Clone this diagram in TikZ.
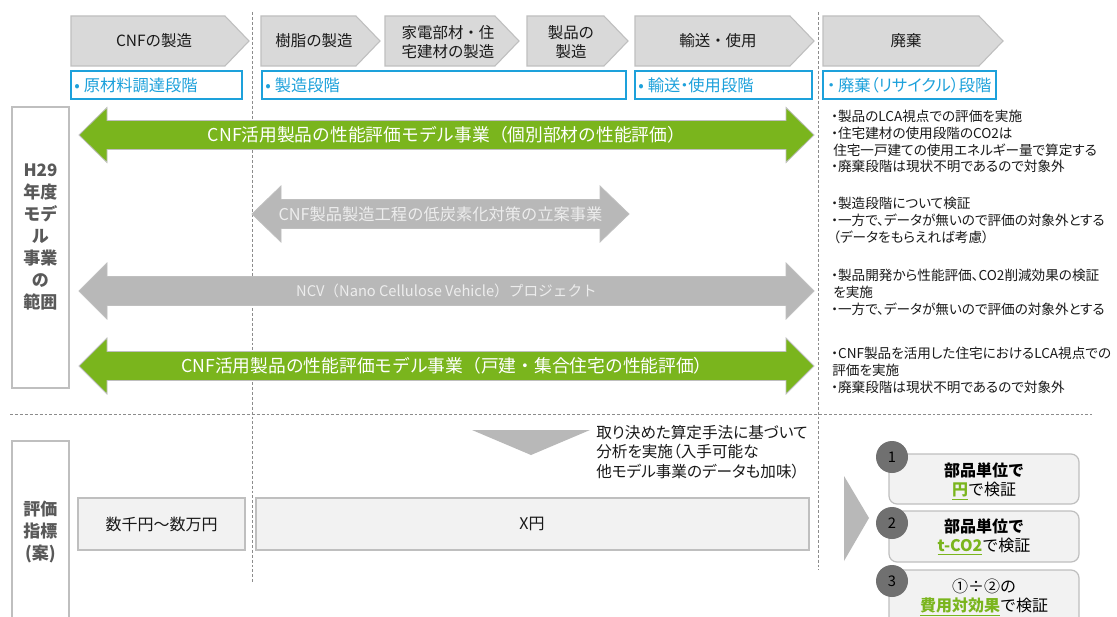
\documentclass[tikz,border=0pt]{standalone}
\usepackage{fontspec}
\setmainfont{Noto Sans CJK JP}
\newfontfamily\jpp[RawFeature=+palt]{Noto Sans CJK JP}
\newcommand\setfs[2]{\fontsize{#1}{#2}\selectfont}
\definecolor{cgreen}{HTML}{7AB51D}
\definecolor{cblue}{HTML}{1DA1DB}
\definecolor{chev}{HTML}{D9D9D9}
\definecolor{chevline}{HTML}{BFBFBF}
\definecolor{agray}{HTML}{B8B8B8}
\definecolor{boxfill}{HTML}{F2F2F2}
\definecolor{labtext}{HTML}{595959}
\definecolor{circ}{HTML}{707070}
\definecolor{dashc}{HTML}{8C8C8C}
\newcommand\hl[1]{\textcolor{cgreen}{\bfseries\underline{#1}}}
% double arrow: style, x1, x2, yc, shaft half, head half, head length
\newcommand\dblarrow[7]{\draw[#1] (#2,#4) -- (#2+#7,#4-#6) -- (#2+#7,#4-#5) -- (#3-#7,#4-#5) -- (#3-#7,#4-#6) -- (#3,#4) -- (#3-#7,#4+#6) -- (#3-#7,#4+#5) -- (#2+#7,#4+#5) -- (#2+#7,#4+#6) -- cycle;}
% chevron: x1, xtip
\newcommand\chevron[2]{\draw[chevron] (#1,16) -- (#2-24,16) -- (#2,41) -- (#2-24,66) -- (#1,66) -- cycle;}
\begin{document}
\begin{tikzpicture}[x=0.75pt,y=-0.75pt,
 chevron/.style={fill=chev,draw=chevline,line width=0.8pt},
 chevtext/.style={inner sep=0,align=center,text=black!90,font=\setfs{11.6pt}{14.5pt}},
 stagebox/.style={draw=cblue,line width=1.1pt,fill=white},
 stagetext/.style={inner sep=0,anchor=west,text=cblue,font=\jpp\setfs{12.2pt}{14pt}},
 greenarrow/.style={fill=cgreen,draw=chevline,line width=0.6pt},
 grayarrow/.style={fill=agray,draw=chevline,line width=0.6pt},
 arrowtext/.style={inner sep=0,text=white},
 note/.style={inner sep=0,anchor=base west,font=\jpp\setfs{10.2pt}{12pt},text=black!90},
 sidebox/.style={draw=chevline,line width=0.9pt,fill=white},
 sidetext/.style={inner sep=0,align=center,text=labtext,font=\bfseries\setfs{12.75pt}{16.5pt}},
 valbox/.style={draw=chevline,line width=0.9pt,fill=boxfill},
 valtext/.style={inner sep=0,font=\setfs{12pt}{14pt},text=black!90},
 resbox/.style={draw=chevline,line width=0.9pt,fill=boxfill,rounded corners=6pt},
 restext/.style={inner sep=0,align=center,font=\setfs{12pt}{14.25pt},text=black},
 numcirc/.style={circle,fill=circ,inner sep=0,minimum size=24pt,font=\setfs{11pt}{13pt},text=black},
 divider/.style={draw=dashc,line width=0.6pt,dash pattern=on 2.2pt off 1.5pt},
 pointer/.style={fill=agray}
]
\useasboundingbox (0,0) rectangle (1117,617);
\fill[white] (0,0) rectangle (1117,617);

% dividers
\draw[divider] (252,12) -- (252,583);
\draw[divider] (818,12) -- (818,570);
\draw[divider] (10,414) -- (1092,414);

% process chevrons
\chevron{71}{249}
\chevron{261}{380}
\chevron{385}{519}
\chevron{527}{628}
\chevron{635}{814}
\chevron{823}{1003}
\node[chevtext] (c1) at (154,41) {CNFの製造};
\node[chevtext] (c2) at (314,41) {樹脂の製造};
\node[chevtext] (c3) at (448,42) {家電部材・住\\宅建材の製造};
\node[chevtext] (c4) at (571,42) {製品の\\製造};
\node[chevtext] (c5) at (718,41) {輸送・使用};
\node[chevtext] (c6) at (906,41) {廃棄};

% stage boxes
\draw[stagebox] (71,71) rectangle (242,99);
\draw[stagebox] (262,71) rectangle (626,99);
\draw[stagebox] (635,71) rectangle (812,99);
\draw[stagebox] (823,71) rectangle (996,99);
\node[stagetext] (s1) at (74,85.5) {•\hspace{3pt}原材料調達段階};
\node[stagetext] (s2) at (265,85.5) {•\hspace{3pt}製造段階};
\node[stagetext] (s3) at (638,85.5) {•\hspace{3pt}輸送・使用段階};
\node[stagetext] (s4) at (827,85.5) {・\hspace{2pt}廃棄（リサイクル）段階};

% side label 1
\draw[sidebox] (12,107) rectangle (69,388);
\node[sidetext] (lab1) at (40.5,237) {H29\\年度\\モデ\\ル\\事業\\の\\範囲};

% project arrows
\dblarrow{greenarrow}{79}{814}{135}{14.5}{27.5}{28}
\node[arrowtext,font=\setfs{13.3pt}{15pt}] (a1) at (446.5,135) {CNF活用製品の性能評価モデル事業（個別部材の性能評価）};
\dblarrow{grayarrow}{252}{629}{214}{14.5}{28}{29}
\node[arrowtext,text=white!93!black,font=\setfs{12.2pt}{14pt}] (a2) at (440.5,214) {CNF製品製造工程の低炭素化対策の立案事業};
\dblarrow{grayarrow}{79}{814}{291}{14.5}{28}{28}
\node[arrowtext,text=white!93!black,font=\setfs{11pt}{13pt}] (a3) at (446.5,291) {NCV（Nano Cellulose Vehicle）プロジェクト};
\dblarrow{greenarrow}{79}{814}{366}{14.5}{28}{28}
\node[arrowtext,font=\setfs{13.3pt}{15pt}] (a4) at (446.5,366) {CNF活用製品の性能評価モデル事業（戸建・集合住宅の性能評価）};

% notes
\node[note] (n11) at (831,122) {・製品のLCA視点での評価を実施};
\node[note] (n12) at (831,138.5) {・住宅建材の使用段階のCO2は};
\node[note] (n13) at (833,155) {住宅一戸建ての使用エネルギー量で算定する};
\node[note] (n14) at (831,171.5) {・廃棄段階は現状不明であるので対象外};
\node[note] (n21) at (831,208) {・製造段階について検証};
\node[note] (n22) at (831,225) {・一方で、データが無いので評価の対象外とする};
\node[note] (n23) at (833,242) {（データをもらえれば考慮）};
\node[note] (n31) at (831,280) {・製品開発から性能評価、CO2削減効果の検証};
\node[note] (n32) at (833,297) {を実施};
\node[note] (n33) at (831,314) {・一方で、データが無いので評価の対象外とする};
\node[note] (n41) at (831,358) {・CNF製品を活用した住宅におけるLCA視点での};
\node[note] (n42) at (832,375) {評価を実施};
\node[note] (n43) at (831,392) {・廃棄段階は現状不明であるので対象外};

% evaluation section
\draw[sidebox] (12,441) rectangle (69,640);
\node[sidetext] (lab2) at (40.5,532) {評価\\指標\\(案)};

\draw[valbox] (78,498) rectangle (245,550);
\node[valtext] (v1) at (161.5,524) {数千円～数万円};
\draw[valbox] (256,498) rectangle (809,550);
\node[valtext] (v2) at (532,524) {X円};

\fill[pointer] (472,430) -- (590,430) -- (531,455) -- cycle;
\node[inner sep=0,anchor=base west,font=\jpp\setfs{11.7pt}{14pt},text=black!90] (m1) at (596,438.5) {取り決めた算定手法に基づいて};
\node[inner sep=0,anchor=base west,font=\jpp\setfs{11.7pt}{14pt},text=black!90] (m2) at (596,457.5) {分析を実施（入手可能な};
\node[inner sep=0,anchor=base west,font=\jpp\setfs{11.7pt}{14pt},text=black!90] (m3) at (596,477.5) {他モデル事業のデータも加味）};

\fill[pointer] (844,476) -- (869,518) -- (844,561) -- cycle;

\draw[resbox] (889,454) rectangle (1079,504);
\draw[resbox] (889,511) rectangle (1079,562);
\draw[resbox] (889,570) rectangle (1079,640);
\node[restext] (r1) at (984,481.5) {\textbf{部品単位で}\\\hl{円}で検証};
\node[restext] (r2) at (984,537) {\textbf{部品単位で}\\\hl{t-CO2}で検証};
\node[restext] (r3) at (984,597.5) {①÷②の\\\hl{費用対効果}で検証};
\node[numcirc] (k1) at (892,457) {1};
\node[numcirc] (k2) at (892,523) {2};
\node[numcirc] (k3) at (892,581) {3};
\end{tikzpicture}
\end{document}
